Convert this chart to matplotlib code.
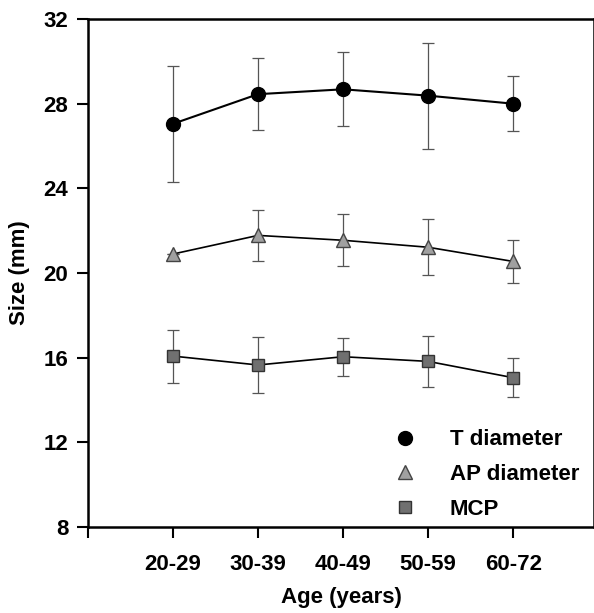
import matplotlib
matplotlib.use("Agg")
import matplotlib.pyplot as plt
from matplotlib.lines import Line2D

plt.rcParams['font.family'] = ['Liberation Sans', 'DejaVu Sans']
plt.rcParams['font.weight'] = 'bold'

ages = ["20-29", "30-39", "40-49", "50-59", "60-72"]
t_diam = [27.05, 28.45, 28.68, 28.38, 28.0]
t_err = [2.75, 1.7, 1.75, 2.5, 1.3]
ap_diam = [20.9, 21.78, 21.55, 21.22, 20.55]
ap_err = [0.0, 1.2, 1.22, 1.32, 1.0]
mcp = [16.08, 15.66, 16.05, 15.83, 15.06]
mcp_err = [1.25, 1.33, 0.9, 1.22, 0.92]

x = list(range(1, len(ages) + 1))

fig = plt.figure(figsize=(5.94, 6.13), dpi=100)
ax = fig.add_axes([0.148, 0.140, 0.852, 0.829])

ebkw = dict(ecolor='#555555', elinewidth=0.9, capsize=4, capthick=0.9)
styles = [
    dict(marker='o', ms=10, mfc='black', mec='black'),
    dict(marker='^', ms=9.5, mfc='#a0a0a0', mec='#444444'),
    dict(marker='s', ms=8, mfc='#707070', mec='#333333'),
]
ax.errorbar(x, t_diam, yerr=t_err, color='black', lw=1.5, **styles[0], **ebkw)
ax.errorbar(x, ap_diam, yerr=ap_err, color='black', lw=1.2, **styles[1], **ebkw)
ax.errorbar(x, mcp, yerr=mcp_err, color='black', lw=1.2, **styles[2], **ebkw)

ax.set_xlim(0, 5.95)
ax.set_ylim(8, 32)
ax.set_yticks([8, 12, 16, 20, 24, 28, 32])
ax.set_xticks([0] + x)
ax.set_xticklabels([''] + ages)
ax.tick_params(direction='out', length=8, width=1.5, labelsize=16)
ax.tick_params(axis='y', pad=6)
ax.tick_params(axis='x', pad=11)
for s in ax.spines.values():
    s.set_linewidth(1.8)

ax.set_xlabel("Age (years)", fontsize=16, fontweight='bold', labelpad=9)
ax.set_ylabel("Size (mm)", fontsize=16, fontweight='bold', labelpad=10)

names = ["T diameter", "AP diameter", "MCP"]
handles = [Line2D([], [], linestyle='', **st) for st in styles]
ax.legend(handles, names, loc='lower right', bbox_to_anchor=(1.01, -0.025),
          frameon=False, fontsize=16, handlelength=1.0, handletextpad=1.5,
          labelspacing=0.62)

fig.savefig("out.png", dpi=100)
